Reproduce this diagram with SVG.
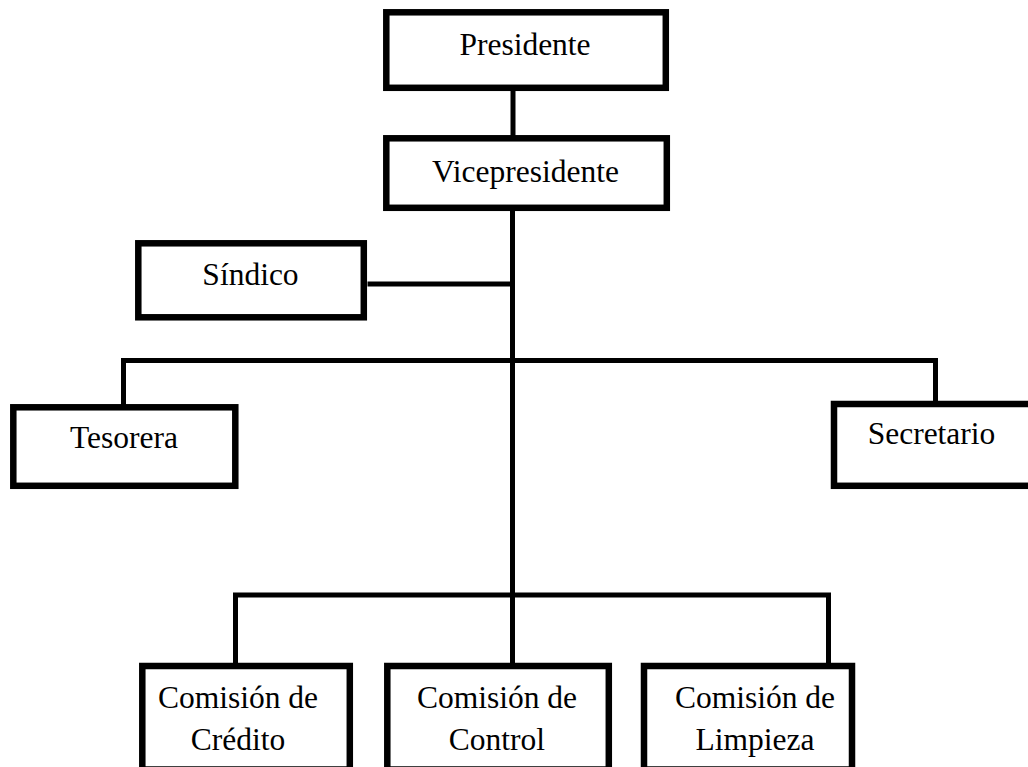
<svg xmlns="http://www.w3.org/2000/svg" width="1028" height="767" viewBox="0 0 1028 767">
<style>
.box{fill:#fff;stroke:#000;stroke-width:6.5}
.ln{stroke:#000;stroke-width:5;fill:none;stroke-linecap:square}
.t{font-family:"Liberation Serif","Times New Roman",serif;font-size:31.5px;fill:#000;text-anchor:middle}
</style>
<rect width="1028" height="767" fill="#fff"/>
<g id="connectors">
<line class="ln" x1="513" y1="91" x2="513" y2="135"/>
<line class="ln" x1="512.5" y1="211" x2="512.5" y2="663"/>
<line class="ln" x1="370" y1="284" x2="512" y2="284"/>
<polyline class="ln" points="123.5,404 123.5,360.5 935.5,360.5 935.5,401"/>
<polyline class="ln" points="235.5,663 235.5,595 828.5,595 828.5,663"/>
</g>
<g id="presidente">
<rect class="box" x="386.3" y="12.3" width="279.5" height="75.5"/>
<text class="t" x="525" y="55">Presidente</text>
</g>
<g id="vicepresidente">
<rect class="box" x="386.3" y="138.3" width="280.5" height="69.5"/>
<text class="t" x="525.5" y="182">Vicepresidente</text>
</g>
<g id="sindico">
<rect class="box" x="138.3" y="243.3" width="225.5" height="74"/>
<text class="t" x="250.5" y="285">Síndico</text>
</g>
<g id="tesorera">
<rect class="box" x="13.3" y="407.3" width="222" height="78.5"/>
<text class="t" x="124" y="448">Tesorera</text>
</g>
<g id="secretario">
<rect class="box" x="834" y="404" width="200" height="81.8"/>
<text class="t" x="931.5" y="444">Secretario</text>
</g>
<g id="credito">
<rect class="box" x="142.3" y="666" width="207.5" height="103.5"/>
<text class="t" x="238" y="708">Comisión de</text>
<text class="t" x="238" y="750">Crédito</text>
</g>
<g id="control">
<rect class="box" x="387.3" y="666" width="221.5" height="103.5"/>
<text class="t" x="497" y="708">Comisión de</text>
<text class="t" x="497" y="750">Control</text>
</g>
<g id="limpieza">
<rect class="box" x="644" y="666" width="208" height="103.5"/>
<text class="t" x="755" y="708">Comisión de</text>
<text class="t" x="755" y="750">Limpieza</text>
</g>
</svg>
